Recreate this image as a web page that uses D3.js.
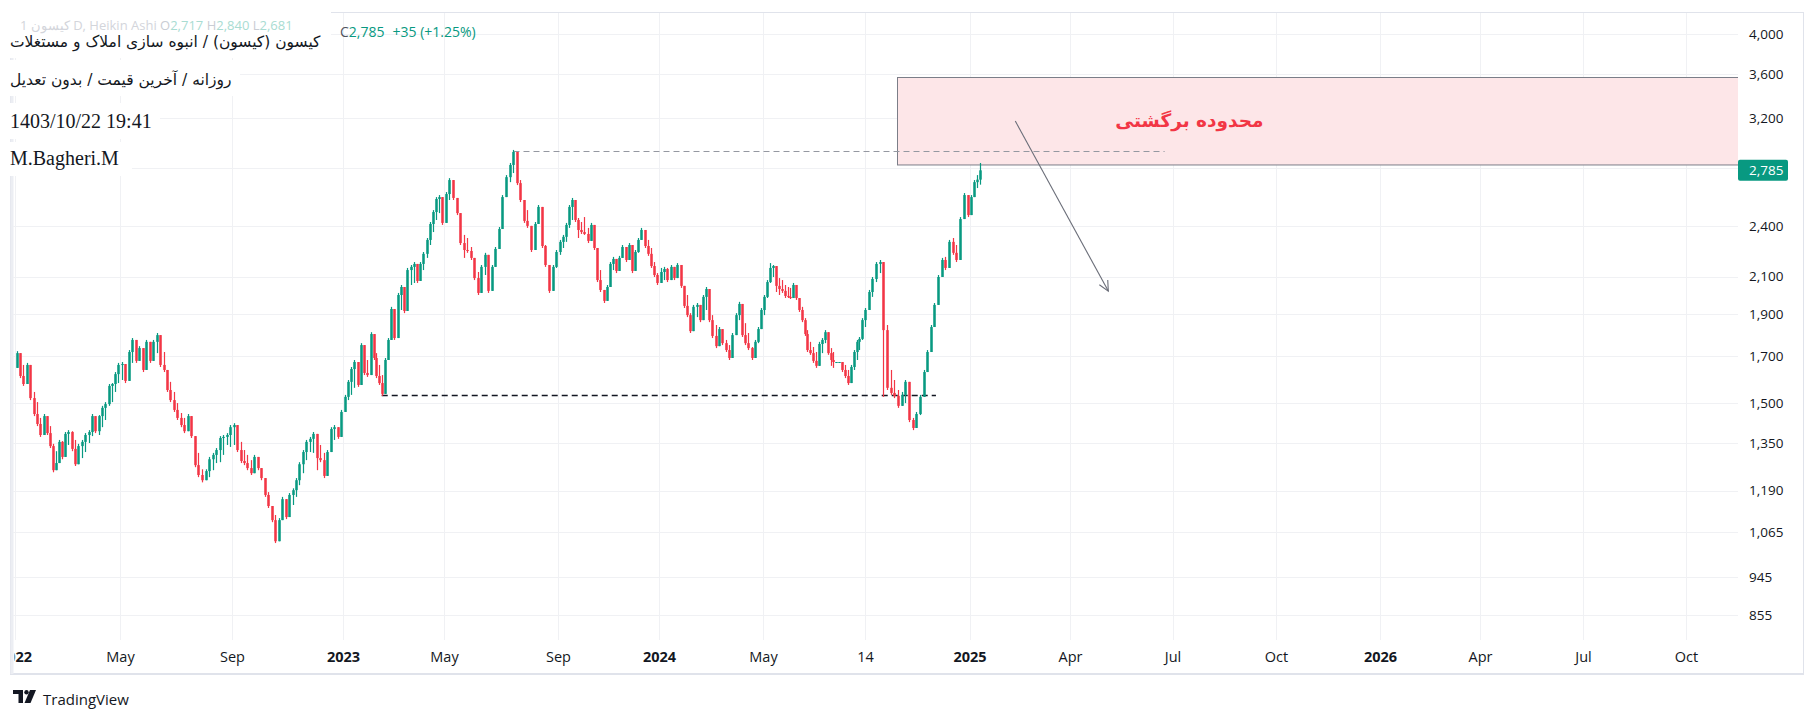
<!DOCTYPE html>
<html><head><meta charset="utf-8">
<script src="https://cdn.jsdelivr.net/npm/d3@7"></script>
<style>html,body{margin:0;padding:0;background:#fff;overflow:hidden}</style>
</head><body>
<svg id="c" width="1816" height="719"></svg>
<script>
// ---------------- DATA ----------------
const months = ["2022-01","2022-02","2022-03","2022-04","2022-05","2022-06","2022-07","2022-08","2022-09","2022-10","2022-11","2022-12",
"2023-01","2023-02","2023-03","2023-04","2023-05","2023-06","2023-07","2023-08","2023-09","2023-10","2023-11","2023-12",
"2024-01","2024-02","2024-03","2024-04","2024-05","2024-06","2024-07","2024-08","2024-09","2024-10","2024-11","2024-12","2025-01"];
const lastDate = "2025-01-12";
const highs = [
[1723,1697,1661,1670,1588,1546,1505,1443],[1458,1450,1412,1347,1321,1361,1357,1390],[1397,1393,1361,1347,1361,1386,1397,1458],
[1443,1454,1490,1505,1579,1583,1630,1670],[1674,1639,1728,1784,1728,1746,1719,1775],[1728,1775,1808,1756,1719,1639,1588,1546],
[1501,1462,1443,1458,1423,1350,1315,1259],[1259,1301,1315,1332,1375,1379,1386,1416],[1423,1386,1354,1325,1308,1290,1308,1301],
[1263,1216,1185,1136,1115,1106,1170,1160],[1182,1197,1230,1283,1325,1361,1372,1390],[1350,1343,1315,1325,1408,1416,1408,1474],
[1534,1596,1652,1683,1670,1760,1706,1683],[1812,1737,1714,1661,1617,1692,1784,1938],[1861,2011,2054,2016,2149,2166,2183,2155],
[2183,2242,2327,2428,2506,2594,2608,2506],[2629,2728,2657,2574,2422,2346,2327,2272],[2207,2126,2166,2237,2126,2166,2272,2396],
[2608,2750,2840,2940,2825,2714,2560,2506],[2377,2428,2540,2409,2284,2166,2166,2254],[2315,2346,2422,2540,2588,2493,2454,2428],
[2460,2390,2422,2390,2225,2137,2027,2054],[2183,2213,2183,2219,2284,2266,2296,2225],[2254,2327,2390,2346,2315,2266,2183,2120],
[2149,2155,2149,2166,2137,2177,2126,2043],[2000,1906,1948,1958,1932,2000,2043,1948],[1896,1847,1837,1822,1775,1751,1808,1906],
[1964,1906,1856,1808,1742,1775,1837,1932],[2000,2081,2177,2166,2126,2092,2081,2054],[2043,2038,2065,2054,1984,1938,1881,1822],
[1766,1742,1719,1766,1784,1822,1784,1737],[1719,1674,1674,1674,1661,1639,1661,1728],[1775,1789,1881,1932,2027,2098,2183,2195],
[2183,1847,1639,1596,1554,1546,1596,1526],[1443,1466,1534,1639,1728,1847,1958,2109],[2207,2213,2315,2327,2284,2460,2622,2553],
[2608,2714,2750,2840]];
const lows = [
[1648,1604,1571,1579,1513,1450,1412,1372],[1386,1379,1332,1249,1273,1301,1293,1315],[1343,1321,1270,1283,1297,1318,1350,1375],
[1386,1379,1408,1435,1490,1505,1546,1583],[1596,1583,1639,1670,1670,1692,1630,1670],[1670,1692,1714,1652,1630,1546,1505,1466],
[1435,1408,1386,1397,1368,1266,1233,1216],[1236,1233,1256,1280,1283,1308,1343,1336],[1343,1318,1280,1273,1256,1240,1263,1256],
[1223,1170,1136,1094,1035,1068,1109,1103],[1136,1145,1170,1207,1246,1290,1318,1315],[1256,1283,1230,1280,1325,1361,1365,1390],
[1466,1513,1534,1563,1567,1609,1617,1609],[1661,1683,1604,1575,1530,1588,1683,1775],[1775,1861,1922,1906,1984,2054,2065,2065],
[2081,2137,2207,2284,2364,2441,2486,2409],[2473,2574,2574,2473,2284,2207,2237,2195],[2081,2000,2081,2109,2011,2070,2183,2272],
[2390,2608,2699,2765,2678,2560,2422,2390],[2242,2340,2428,2266,2155,2011,2081,2149],[2225,2266,2303,2390,2441,2428,2327,2352],
[2346,2296,2358,2254,2070,2016,1958,2000],[2065,2137,2120,2137,2207,2183,2237,2120],[2195,2237,2315,2266,2219,2149,2098,2054],
[2065,2081,2070,2098,2081,2098,2038,1932],[1886,1808,1861,1886,1861,1912,1922,1861],[1784,1737,1760,1751,1719,1683,1742,1822],
[1871,1789,1751,1728,1683,1714,1760,1847],[1896,1984,2065,2098,2016,2000,2011,1984],[1984,1979,2011,1974,1912,1861,1794,1719],
[1706,1670,1648,1692,1714,1760,1706,1657],[1648,1674,1674,1630,1604,1575,1604,1639],[1683,1728,1775,1837,1938,1990,2070,2120],
[1526,1554,1534,1521,1482,1494,1501,1427],[1397,1423,1454,1546,1630,1728,1881,2011],[2126,2137,2207,2225,2183,2315,2493,2460],
[2527,2608,2657,2681]];
const closes = [
[1714,1613,1579,1661,1521,1458,1420,1379],[1450,1386,1339,1256,1280,1354,1301,1383],[1390,1329,1276,1339,1354,1379,1390,1450],
[1393,1450,1482,1497,1571,1579,1621,1661],[1665,1592,1719,1775,1679,1737,1639,1766],[1679,1766,1798,1661,1639,1554,1513,1474],
[1443,1416,1393,1450,1375,1273,1240,1223],[1253,1293,1308,1325,1368,1372,1379,1408],[1416,1325,1287,1280,1263,1246,1301,1263],
[1230,1176,1142,1100,1040,1100,1163,1109],[1176,1191,1223,1276,1318,1354,1365,1383],[1297,1290,1237,1318,1401,1408,1372,1466],
[1526,1588,1643,1674,1575,1751,1626,1617],[1803,1692,1613,1583,1538,1683,1775,1927],[1784,2000,2043,1917,2137,2155,2172,2076],
[2172,2231,2315,2415,2493,2581,2594,2422],[2615,2714,2588,2486,2296,2254,2248,2207],[2092,2011,2155,2225,2022,2155,2260,2383],
[2594,2735,2825,2924,2692,2574,2435,2403],[2254,2415,2527,2278,2166,2022,2155,2242],[2303,2334,2409,2527,2574,2441,2377,2364],
[2352,2309,2409,2266,2081,2027,1969,2043],[2172,2201,2132,2207,2272,2195,2284,2132],[2242,2315,2377,2278,2231,2160,2109,2065],
[2126,2143,2081,2155,2092,2166,2049,1943],[1896,1817,1938,1948,1871,1990,2032,1871],[1794,1746,1827,1760,1728,1692,1798,1896],
[1953,1798,1760,1737,1692,1766,1827,1922],[1990,2070,2149,2160,2049,2032,2022,1995],[1990,1984,2054,1984,1922,1871,1803,1728],
[1714,1679,1657,1756,1775,1812,1714,1683],[1674,1674,1674,1639,1613,1583,1652,1719],[1766,1780,1871,1922,2016,2087,2172,2183],
[1822,1563,1542,1530,1490,1534,1588,1435],[1405,1458,1526,1630,1719,1837,1948,2098],[2195,2149,2303,2237,2195,2447,2608,2473],
[2594,2699,2717,2785]];
const priceTicks = [4000,3600,3200,2800,2400,2100,1900,1700,1500,1350,1190,1065,945,855];
const timeTickDates = ["2022-01-01","2022-05-01","2022-09-01","2023-01-01","2023-05-01","2023-09-01","2024-01-01","2024-05-01","2024-09-14",
"2025-01-01","2025-04-01","2025-07-01","2025-10-01","2026-01-01","2026-04-01","2026-07-01","2026-10-01"];
const timeTickLabels = ["2022","May","Sep","2023","May","Sep","2024","May","14","2025","Apr","Jul","Oct","2026","Apr","Jul","Oct"];
const lastBar = {open:2717, high:2840, low:2681, close:2785, change:35, pct:1.25};
const zone = {from:"2024-10-17", to:"2027-06-01", top:3570, bottom:2830, label:"محدوده برگشتی", labelAt:["2025-07-16",3175]};
const peakLine = {from:"2023-07-15", to:"2025-06-24", price:2935};
const supportLine = {from:"2023-02-16", to:"2024-11-27", price:1534};
const arrowLine = {from:["2025-02-11",3175], to:["2025-05-05",2021]};
const titleLines = ["کیسون (کیسون) / انبوه سازی املاک و مستغلات","روزانه / آخرین قیمت / بدون تعدیل","1403/10/22 19:41","M.Bagheri.M"];

// ---------------- LAYOUT ----------------
const W=1816,H=719;
const plot={l:12,r:1738,t:13,b:640};
const timeTickX=[15,120,232,343,444,558,659,763,865,969.5,1070,1172.5,1276,1380,1480,1583,1686];
const UP="#089981", DN="#f23645";
const parse=d3.utcParse("%Y-%m-%d");
const svg=d3.select("#c");

const x=d3.scaleUtc().domain(timeTickDates.map(parse)).range(timeTickX);
const y=d3.scaleLog().domain([855,4000]).range([615,34]);

// candles
const candles=[];
let prevClose=null;
months.forEach((m,mi)=>{
  const start=parse(m+"-01");
  const end = mi===months.length-1 ? parse(lastDate) : d3.utcMonth.offset(start,1);
  const n=closes[mi].length;
  for(let i=0;i<n;i++){
    const date=new Date(+start+(i+0.5)/n*(end-start));
    const o = prevClose===null ? lows[mi][i] : prevClose;
    const c = closes[mi][i];
    candles.push({date,o,h:highs[mi][i],l:lows[mi][i],c});
    prevClose=c;
  }
});
candles[candles.length-1].o=lastBar.open;

// frame
svg.append("rect").attr("x",0).attr("y",0).attr("width",W).attr("height",H).attr("fill","#fff");
svg.append("rect").attr("x",10.5).attr("y",12.5).attr("width",1793).attr("height",661).attr("fill","none").attr("stroke","#e0e3eb").attr("stroke-width",1);
svg.append("line").attr("x1",10).attr("x2",1804).attr("y1",674).attr("y2",674).attr("stroke","#e0e3eb").attr("stroke-width",2);
svg.append("line").attr("x1",12).attr("x2",12).attr("y1",12).attr("y2",674).attr("stroke","#eceef3").attr("stroke-width",3);

const defs=svg.append("defs");
defs.append("clipPath").attr("id","pc").append("rect")
  .attr("x",plot.l+1).attr("y",plot.t).attr("width",plot.r-plot.l-1).attr("height",plot.b-plot.t);
defs.append("clipPath").attr("id","tc").append("rect").attr("x",14.5).attr("y",0).attr("width",plot.r-14.5).attr("height",30);

// grid
const grid=svg.append("g").attr("clip-path","url(#pc)");
grid.selectAll(".hg").data(priceTicks).join("line")
  .attr("x1",plot.l).attr("x2",plot.r).attr("y1",d=>Math.round(y(d))+0.5).attr("y2",d=>Math.round(y(d))+0.5)
  .attr("stroke","#f0f1f4").attr("stroke-width",1);
grid.selectAll(".vg").data(timeTickDates).join("line")
  .attr("x1",d=>Math.round(x(parse(d)))+0.5).attr("x2",d=>Math.round(x(parse(d)))+0.5).attr("y1",plot.t).attr("y2",plot.b)
  .attr("stroke","#f0f1f4").attr("stroke-width",1);

// zone
const g=svg.append("g").attr("clip-path","url(#pc)");
const zx0=x(parse(zone.from)), zx1=x(parse(zone.to));
g.append("rect").attr("x",Math.round(zx0)+0.5).attr("y",Math.round(y(zone.top))+0.5)
  .attr("width",zx1-zx0).attr("height",y(zone.bottom)-y(zone.top))
  .attr("fill","#fde6e8").attr("stroke","#7b7e88").attr("stroke-width",1);

// dashed lines
g.append("line").attr("x1",x(parse(peakLine.from))).attr("x2",x(parse(peakLine.to)))
  .attr("y1",Math.round(y(peakLine.price))+0.5).attr("y2",Math.round(y(peakLine.price))+0.5)
  .attr("stroke","#9598a1").attr("stroke-width",1).attr("stroke-dasharray","6,4");
g.append("line").attr("x1",x(parse(supportLine.from))).attr("x2",x(parse(supportLine.to)))
  .attr("y1",Math.round(y(supportLine.price))+0.5).attr("y2",Math.round(y(supportLine.price))+0.5)
  .attr("stroke","#131722").attr("stroke-width",1.3).attr("stroke-dasharray","6,4");

// candles
const cg=g.append("g");
cg.selectAll(".w").data(candles).join("line")
  .attr("x1",d=>Math.round(x(d.date))+0.5).attr("x2",d=>Math.round(x(d.date))+0.5)
  .attr("y1",d=>y(Math.max(d.h,d.o,d.c))).attr("y2",d=>y(Math.min(d.l,d.o,d.c)))
  .attr("stroke",d=>d.c>=d.o?UP:DN).attr("stroke-width",1.2);
cg.selectAll(".b").data(candles).join("rect")
  .attr("x",d=>Math.round(x(d.date))-0.75).attr("width",2.5)
  .attr("y",d=>y(Math.max(d.o,d.c)))
  .attr("height",d=>Math.max(1,y(Math.min(d.o,d.c))-y(Math.max(d.o,d.c))))
  .attr("fill",d=>d.c>=d.o?UP:DN);

// arrow
const ax0=x(parse(arrowLine.from[0])), ay0=y(arrowLine.from[1]);
const ax1=x(parse(arrowLine.to[0])), ay1=y(arrowLine.to[1]);
g.append("line").attr("x1",ax0).attr("y1",ay0).attr("x2",ax1).attr("y2",ay1).attr("stroke","#6a6d78").attr("stroke-width",1.1);
const ang=Math.atan2(ay1-ay0,ax1-ax0), hl=11, ha=0.45;
g.append("path").attr("d",`M${ax1-hl*Math.cos(ang-ha)},${ay1-hl*Math.sin(ang-ha)}L${ax1},${ay1}L${ax1-hl*Math.cos(ang+ha)},${ay1-hl*Math.sin(ang+ha)}`)
  .attr("fill","none").attr("stroke","#6a6d78").attr("stroke-width",1.1);

// zone label
g.append("text").attr("x",x(parse(zone.labelAt[0]))).attr("y",y(zone.labelAt[1]))
  .attr("text-anchor","middle").attr("dominant-baseline","central")
  .attr("font-family","DejaVu Sans").attr("font-weight","bold").attr("font-size",18.5).attr("fill",DN)
  .text(zone.label);

// price axis
const pa=svg.append("g").attr("transform",`translate(${plot.r},0)`)
  .call(d3.axisRight(y).tickValues(priceTicks).tickFormat(d3.format(",")).tickSize(0).tickPadding(11));
pa.select(".domain").remove();
pa.selectAll("text").attr("font-family","Open Sans, sans-serif").attr("font-size",13.5).attr("fill","#131722");
// last price badge
const by=y(lastBar.close);
svg.append("rect").attr("x",plot.r).attr("y",by-10.5).attr("width",50).attr("height",21).attr("rx",2).attr("fill",UP);
svg.append("text").attr("x",plot.r+11).attr("y",by).attr("dominant-baseline","central")
  .attr("font-family","Open Sans, sans-serif").attr("font-size",13.5).attr("fill","#fff").text(d3.format(",")(lastBar.close));

// time axis
const ta=svg.append("g").attr("transform",`translate(0,${plot.b})`).attr("clip-path","url(#tc)")
  .call(d3.axisBottom(x).tickValues(timeTickDates.map(parse)).tickFormat((d,i)=>timeTickLabels[i]).tickSize(0).tickPadding(12));
ta.select(".domain").remove();
ta.selectAll("text").attr("font-family","Open Sans, sans-serif").attr("font-size",14.5).attr("fill","#131722")
  .attr("font-weight",(d,i)=>/^\d{4}$/.test(timeTickLabels[i])?"bold":"normal");

// header boxes
const hb=[[10,12,321,46],[10,60,230,36],[10,103,150,36],[10,142,122,34]];
svg.selectAll(".hb").data(hb).join("rect").attr("x",d=>d[0]).attr("y",d=>d[1]).attr("width",d=>d[2]).attr("height",d=>d[3]).attr("fill","#fff");

// legend (faint, just above the title line)
const lg=svg.append("text").attr("x",20).attr("y",25).attr("dominant-baseline","central")
  .attr("font-family","Open Sans, sans-serif").attr("font-size",13);
lg.append("tspan").attr("fill","#d3d5db").text("1 کیسون D, Heikin Ashi ");
lg.append("tspan").attr("fill","#c9cdd4").text(" O");
lg.append("tspan").attr("fill","#a9dcd2").text(d3.format(",")(lastBar.open));
lg.append("tspan").attr("fill","#c9cdd4").text("  H");
lg.append("tspan").attr("fill","#a9dcd2").text(d3.format(",")(lastBar.high));
lg.append("tspan").attr("fill","#c9cdd4").text("  L");
lg.append("tspan").attr("fill","#a9dcd2").text(d3.format(",")(lastBar.low));
const lg2=svg.append("text").attr("x",340).attr("y",31).attr("dominant-baseline","central")
  .attr("font-family","Open Sans, sans-serif").attr("font-size",14);
lg2.append("tspan").attr("fill","#50535e").text("C");
lg2.append("tspan").attr("fill",UP).text(d3.format(",")(lastBar.close));
lg2.append("tspan").attr("fill",UP).attr("dx",8).text(`+${lastBar.change} (+${lastBar.pct.toFixed(2)}%)`);

// titles
const tl=[{t:titleLines[0],y:42,f:"DejaVu Sans",s:15.5},{t:titleLines[1],y:80,f:"DejaVu Sans",s:15.5},
          {t:titleLines[2],y:121,f:"Liberation Serif",s:20},{t:titleLines[3],y:158,f:"Liberation Serif",s:20}];
svg.selectAll(".tl").data(tl).join("text").attr("x",10).attr("y",d=>d.y).attr("dominant-baseline","central")
  .attr("font-family",d=>d.f).attr("font-size",d=>d.s).attr("fill","#131722").text(d=>d.t);

// logo
const lgo=svg.append("g").attr("transform","translate(13,690)");
lgo.append("path").attr("d","M0,0H10V13H5.5V4H0Z").attr("fill","#131722");
lgo.append("circle").attr("cx",13.5).attr("cy",2.2).attr("r",2.2).attr("fill","#131722");
lgo.append("path").attr("d","M17,0H23L17.5,13H11.5Z").attr("fill","#131722");
svg.append("text").attr("x",43).attr("y",699).attr("dominant-baseline","central")
  .attr("font-family","Open Sans, sans-serif").attr("font-size",15).attr("fill","#131722").text("TradingView");
</script>
</body></html>
